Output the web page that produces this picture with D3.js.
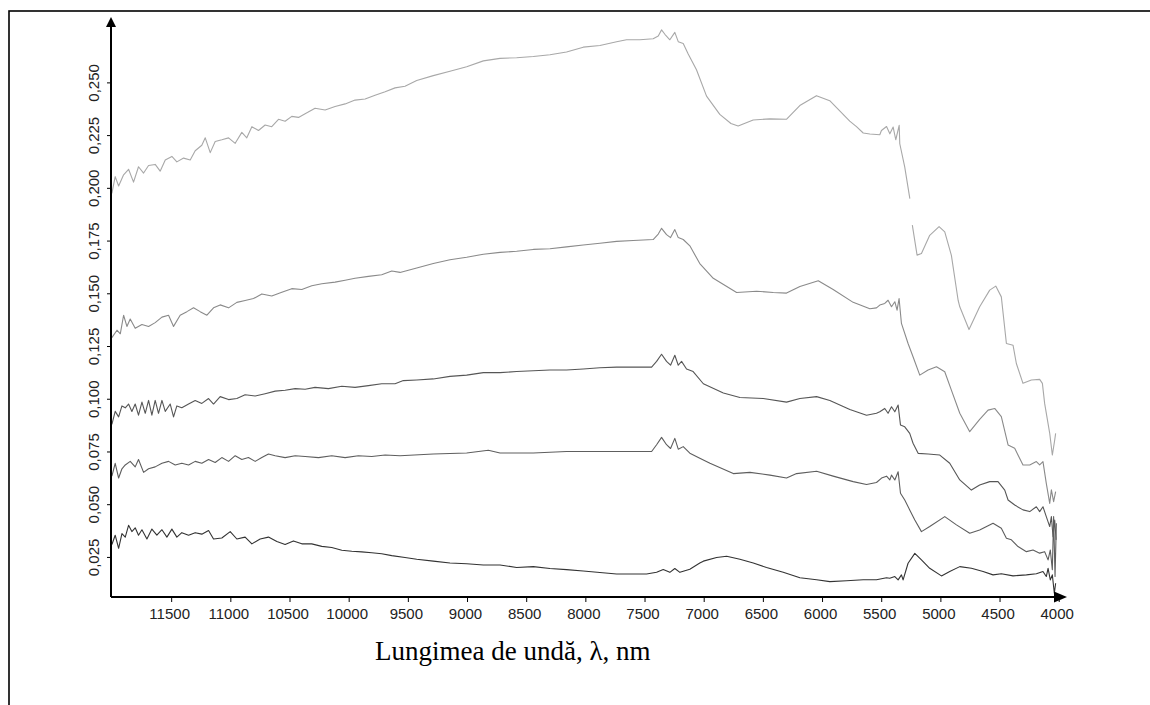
<!DOCTYPE html>
<html>
<head>
<meta charset="utf-8">
<script src="https://cdn.jsdelivr.net/npm/d3@7"></script>
<style>
  body { margin: 0; background: #fff; }
  .tick text { font-family: "Liberation Sans", Arial, sans-serif; font-size: 15px; fill: #222; }
  .curve { fill: none; stroke-width: 1.1; stroke-linejoin: round; }
</style>
</head>
<body>
<script>
// wavelength (nm) vs value; null = gap in the trace
var spectrum1 = [[12001,0.1974],[11973,0.2053],[11944,0.2009],[11902,0.2062],[11860,0.2088],[11818,0.2027],[11776,0.2100],[11733,0.2070],[11691,0.2106],[11635,0.2111],[11593,0.2079],[11550,0.2132],[11494,0.2149],[11452,0.2123],[11395,0.2141],[11339,0.2132],[11297,0.2176],[11241,0.2202],[11212,0.2237],[11170,0.2167],[11128,0.2220],[11072,0.2228],[11015,0.2237],[10959,0.2211],[10903,0.2263],[10861,0.2237],[10818,0.2290],[10762,0.2272],[10706,0.2298],[10650,0.2290],[10593,0.2325],[10537,0.2316],[10481,0.2339],[10424,0.2334],[10368,0.2351],[10284,0.2377],[10199,0.2369],[10115,0.2386],[10030,0.2398],[9946,0.2416],[9861,0.2421],[9777,0.2439],[9692,0.2456],[9608,0.2474],[9524,0.2482],[9425,0.2509],[9285,0.2532],[9144,0.2553],[9003,0.2574],[8862,0.2602],[8721,0.2614],[8581,0.2617],[8440,0.2623],[8299,0.2631],[8159,0.2644],[8018,0.2667],[7877,0.2675],[7736,0.2693],[7652,0.2702],[7539,0.2702],[7427,0.2707],[7384,0.2720],[7356,0.2749],[7328,0.2728],[7286,0.2702],[7244,0.2737],[7215,0.2693],[7173,0.2684],[7131,0.2635],[7061,0.2560],[6976,0.2435],[6864,0.2348],[6770,0.2305],[6709,0.2293],[6582,0.2322],[6441,0.2327],[6301,0.2325],[6188,0.2390],[6047,0.2437],[5935,0.2413],[5766,0.2316],[5709,0.2290],[5652,0.2260],[5596,0.2255],[5512,0.2252],[5498,0.2272],[5455,0.2291],[5427,0.2256],[5399,0.2288],[5377,0.2228],[5348,0.2296],[5343,0.2209],[5301,0.2098],[5258,0.1949],[5247,null],[5237,0.1823],[5197,0.1681],[5160,0.1689],[5090,0.1775],[5011,0.1816],[4963,0.1791],[4907,0.1680],[4850,0.1467],[4836,0.1436],[4758,0.1328],[4668,0.1436],[4583,0.1515],[4532,0.1534],[4485,0.1483],[4442,0.1262],[4386,0.1254],[4358,0.1167],[4302,0.1073],[4231,0.1089],[4161,0.1092],[4138,0.1073],[4119,0.0978],[4076,0.0836],[4054,0.0733],[4034,0.0804],[4026,0.0836]];

var spectrum2 = [[12001,0.1290],[11958,0.1325],[11930,0.1308],[11902,0.1396],[11874,0.1343],[11846,0.1378],[11804,0.1334],[11747,0.1352],[11691,0.1343],[11635,0.1361],[11578,0.1387],[11522,0.1396],[11480,0.1343],[11424,0.1396],[11367,0.1413],[11311,0.1431],[11255,0.1413],[11198,0.1396],[11142,0.1431],[11086,0.1445],[11015,0.1431],[10945,0.1457],[10875,0.1466],[10804,0.1475],[10734,0.1497],[10650,0.1487],[10565,0.1505],[10481,0.1522],[10396,0.1518],[10312,0.1536],[10227,0.1545],[10115,0.1553],[10030,0.1562],[9946,0.1571],[9833,0.1580],[9721,0.1588],[9636,0.1606],[9566,0.1599],[9425,0.1620],[9285,0.1641],[9144,0.1659],[9003,0.1671],[8862,0.1685],[8721,0.1694],[8581,0.1699],[8440,0.1708],[8299,0.1711],[8159,0.1720],[8018,0.1729],[7877,0.1737],[7736,0.1746],[7595,0.1750],[7427,0.1755],[7384,0.1781],[7356,0.1808],[7314,0.1778],[7280,0.1764],[7244,0.1802],[7215,0.1764],[7173,0.1755],[7117,0.1725],[7033,0.1641],[6919,0.1571],[6722,0.1504],[6553,0.1510],[6412,0.1504],[6300,0.1501],[6187,0.1532],[6032,0.1559],[5906,0.1518],[5737,0.1457],[5596,0.1427],[5540,0.1431],[5512,0.1444],[5470,0.1452],[5442,0.1467],[5413,0.1436],[5385,0.1460],[5366,0.1420],[5349,0.1475],[5329,0.1357],[5273,0.1262],[5231,0.1199],[5174,0.1112],[5104,0.1136],[5033,0.1152],[4963,0.1128],[4907,0.1041],[4836,0.0931],[4752,0.0844],[4668,0.0902],[4597,0.0946],[4541,0.0954],[4485,0.0915],[4428,0.0781],[4372,0.0765],[4302,0.0686],[4245,0.0686],[4189,0.0702],[4161,0.0686],[4133,0.0702],[4105,0.0599],[4076,0.0504],[4062,0.0568],[4043,0.0512],[4026,0.0560]];

var spectrum3 = [[12001,0.0878],[11973,0.0940],[11944,0.0914],[11916,0.0966],[11888,0.0957],[11860,0.0975],[11832,0.0940],[11804,0.0975],[11776,0.0922],[11747,0.0984],[11719,0.0931],[11691,0.0992],[11663,0.0922],[11635,0.0992],[11607,0.0931],[11578,0.0992],[11550,0.0940],[11508,0.0975],[11480,0.0914],[11452,0.0966],[11410,0.0957],[11353,0.0975],[11297,0.0992],[11241,0.0978],[11184,0.1001],[11142,0.0975],[11086,0.1010],[11015,0.0996],[10945,0.1001],[10875,0.1019],[10790,0.1013],[10706,0.1024],[10621,0.1036],[10537,0.1040],[10452,0.1048],[10368,0.1045],[10284,0.1054],[10171,0.1048],[10058,0.1059],[9946,0.1054],[9833,0.1062],[9721,0.1071],[9608,0.1071],[9538,0.1086],[9425,0.1089],[9285,0.1094],[9144,0.1106],[9003,0.1112],[8862,0.1124],[8721,0.1124],[8581,0.1129],[8440,0.1133],[8299,0.1136],[8159,0.1136],[8018,0.1141],[7877,0.1147],[7736,0.1150],[7595,0.1150],[7440,0.1150],[7398,0.1177],[7356,0.1211],[7314,0.1177],[7280,0.1159],[7244,0.1206],[7215,0.1159],[7187,0.1177],[7145,0.1141],[7089,0.1129],[7003,0.1071],[6834,0.1027],[6694,0.1006],[6497,0.1001],[6300,0.0984],[6187,0.1001],[6046,0.1010],[5934,0.0992],[5765,0.0949],[5624,0.0922],[5540,0.0931],[5512,0.0938],[5470,0.0954],[5442,0.0931],[5413,0.0962],[5385,0.0938],[5357,0.0970],[5337,0.0875],[5301,0.0867],[5259,0.0836],[5231,0.0789],[5188,0.0741],[5104,0.0738],[5005,0.0733],[4921,0.0694],[4836,0.0615],[4738,0.0567],[4668,0.0591],[4583,0.0607],[4513,0.0607],[4456,0.0567],[4428,0.0520],[4372,0.0496],[4302,0.0473],[4245,0.0465],[4189,0.0488],[4161,0.0465],[4133,0.0488],[4105,0.0441],[4076,0.0394],[4062,0.0441],[4048,0.0346],[4034,0.0425],[4022,0.0331]];

var spectrum4 = [[12001,0.0633],[11973,0.0694],[11944,0.0624],[11916,0.0668],[11888,0.0686],[11846,0.0703],[11804,0.0677],[11776,0.0712],[11733,0.0651],[11691,0.0668],[11635,0.0677],[11578,0.0694],[11522,0.0703],[11466,0.0686],[11410,0.0694],[11353,0.0686],[11297,0.0703],[11241,0.0694],[11184,0.0712],[11128,0.0698],[11072,0.0721],[11015,0.0703],[10959,0.0730],[10903,0.0712],[10847,0.0721],[10790,0.0703],[10734,0.0721],[10678,0.0738],[10621,0.0730],[10537,0.0721],[10452,0.0730],[10368,0.0726],[10255,0.0721],[10143,0.0730],[10030,0.0721],[9918,0.0730],[9805,0.0726],[9692,0.0733],[9566,0.0730],[9285,0.0738],[9003,0.0743],[8820,0.0756],[8721,0.0743],[8440,0.0743],[8159,0.0750],[7877,0.0750],[7595,0.0750],[7440,0.0750],[7398,0.0782],[7356,0.0817],[7314,0.0782],[7280,0.0764],[7244,0.0812],[7215,0.0761],[7173,0.0773],[7117,0.0742],[7033,0.0718],[6947,0.0694],[6750,0.0645],[6609,0.0651],[6440,0.0638],[6300,0.0624],[6215,0.0645],[6046,0.0656],[5906,0.0633],[5737,0.0607],[5624,0.0593],[5540,0.0603],[5497,0.0624],[5455,0.0633],[5427,0.0615],[5413,0.0638],[5385,0.0615],[5357,0.0654],[5337,0.0552],[5301,0.0520],[5259,0.0473],[5216,0.0425],[5160,0.0370],[5090,0.0394],[4963,0.0441],[4864,0.0402],[4752,0.0362],[4668,0.0378],[4555,0.0410],[4485,0.0386],[4442,0.0339],[4400,0.0331],[4344,0.0299],[4273,0.0275],[4217,0.0283],[4161,0.0268],[4119,0.0275],[4090,0.0236],[4071,0.0283],[4054,0.0189],[4043,0.0441],[4031,0.0157],[4020,0.0410]];

var spectrum5 = [[12001,0.0309],[11973,0.0353],[11944,0.0291],[11916,0.0361],[11888,0.0344],[11860,0.0400],[11832,0.0370],[11804,0.0388],[11776,0.0353],[11747,0.0379],[11705,0.0335],[11663,0.0382],[11621,0.0353],[11578,0.0379],[11536,0.0344],[11494,0.0382],[11452,0.0344],[11410,0.0365],[11353,0.0353],[11297,0.0365],[11241,0.0358],[11184,0.0375],[11142,0.0335],[11072,0.0340],[11001,0.0370],[10945,0.0335],[10875,0.0344],[10818,0.0312],[10748,0.0335],[10678,0.0344],[10607,0.0323],[10537,0.0309],[10467,0.0326],[10396,0.0312],[10312,0.0312],[10227,0.0300],[10143,0.0295],[10058,0.0282],[9974,0.0277],[9890,0.0274],[9805,0.0270],[9721,0.0265],[9636,0.0256],[9524,0.0247],[9425,0.0239],[9285,0.0230],[9144,0.0221],[9003,0.0218],[8862,0.0212],[8721,0.0212],[8581,0.0200],[8440,0.0204],[8299,0.0195],[8159,0.0190],[8018,0.0183],[7877,0.0176],[7736,0.0169],[7595,0.0169],[7483,0.0169],[7398,0.0177],[7342,0.0190],[7286,0.0177],[7244,0.0195],[7201,0.0177],[7117,0.0192],[7033,0.0221],[7003,0.0230],[6891,0.0247],[6806,0.0253],[6694,0.0239],[6581,0.0221],[6469,0.0200],[6328,0.0177],[6187,0.0151],[6046,0.0142],[5934,0.0133],[5793,0.0137],[5652,0.0142],[5540,0.0142],[5455,0.0151],[5428,0.0149],[5385,0.0157],[5357,0.0141],[5329,0.0165],[5315,0.0141],[5273,0.0220],[5216,0.0267],[5160,0.0236],[5090,0.0196],[4991,0.0160],[4921,0.0181],[4836,0.0204],[4738,0.0196],[4639,0.0181],[4555,0.0165],[4485,0.0170],[4386,0.0160],[4273,0.0165],[4189,0.0170],[4133,0.0181],[4105,0.0157],[4090,0.0196],[4071,0.0141],[4054,0.0165],[4037,0.0078],[4026,0.0125]];

var seriesList = [spectrum1, spectrum2, spectrum3, spectrum4, spectrum5];
var seriesColors = ["#a8a8a8", "#8a8a8a", "#565656", "#5e5e5e", "#333333"];

var xTicks = [11500, 11000, 10500, 10000, 9500, 9000, 8500, 8000, 7500, 7000, 6500, 6000, 5500, 5000, 4500, 4000];
var yTicks = [0.025, 0.050, 0.075, 0.100, 0.125, 0.150, 0.175, 0.200, 0.225, 0.250];
var xTitle = "Lungimea de undă, λ, nm";

var width = 1150, height = 705;
var svg = d3.select("body").append("svg")
  .attr("width", width)
  .attr("height", height)
  .style("display", "block");

// outer frame (runs off the right and bottom of the page)
svg.append("rect")
  .attr("x", 9).attr("y", 11)
  .attr("width", width + 20).attr("height", height + 20)
  .attr("fill", "none").attr("stroke", "#000").attr("stroke-width", 1.6);

var x = d3.scaleLinear().domain([12000, 3930]).range([112, 1067]);
var y = d3.scaleLinear().domain([0.006, 0.281]).range([597, 17]);

// x axis
var gx = svg.append("g")
  .attr("transform", "translate(0,597)")
  .call(d3.axisBottom(x).tickValues(xTicks).tickSize(5).tickSizeOuter(0).tickPadding(6).tickFormat(d3.format("d")));
gx.select(".domain").remove();
gx.selectAll(".tick line").attr("stroke", "#000");
gx.selectAll(".tick text").attr("dx", -2);

// y axis, labels turned on their side
var gy = svg.append("g")
  .attr("transform", "translate(111,0)")
  .call(d3.axisLeft(y).tickValues(yTicks).tickSize(4).tickSizeOuter(0)
    .tickFormat(function (d) { return d3.format(".3f")(d).replace(".", ","); }));
gy.select(".domain").remove();
gy.selectAll(".tick line").attr("stroke", "#000");
gy.selectAll(".tick text")
  .attr("transform", "rotate(-90)")
  .attr("x", 0).attr("y", -12.5).attr("dy", 0)
  .attr("text-anchor", "middle");

// curves
var line = d3.line()
  .defined(function (d) { return d[1] !== null; })
  .x(function (d) { return x(d[0]); })
  .y(function (d) { return y(d[1]); });

svg.selectAll(".curve")
  .data(seriesList)
  .enter().append("path")
  .attr("class", "curve")
  .attr("stroke", function (d, i) { return seriesColors[i]; })
  .attr("d", line);

// axis lines with arrow heads
svg.append("line")
  .attr("x1", 111).attr("y1", 597).attr("x2", 111).attr("y2", 26)
  .attr("stroke", "#000").attr("stroke-width", 2);
svg.append("path")
  .attr("d", "M111,17 L106,27 L116,27 Z").attr("fill", "#000");
svg.append("line")
  .attr("x1", 111).attr("y1", 597).attr("x2", 1056).attr("y2", 597)
  .attr("stroke", "#000").attr("stroke-width", 2);
svg.append("path")
  .attr("d", "M1067,597 L1054,591.5 L1054,602.5 Z").attr("fill", "#000");

// axis title
svg.append("text")
  .attr("x", 375).attr("y", 660)
  .style("font-family", "'Liberation Serif', 'Times New Roman', serif")
  .style("font-size", "27px")
  .text(xTitle);
</script>
</body>
</html>
